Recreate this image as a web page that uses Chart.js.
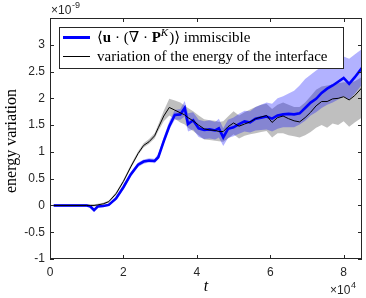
<!DOCTYPE html>
<html>
<head>
<meta charset="utf-8">
<script src="https://cdn.jsdelivr.net/npm/chart.js@4.4.1/dist/chart.umd.min.js"></script>
<style>
  html, body { margin: 0; padding: 0; background: #fff; }
  #wrap { width: 366px; height: 298px; position: relative; }
</style>
</head>
<body>
<div id="wrap"><canvas id="chart"></canvas></div>
<script>
// t in units of 1e4, values in units of 1e-9
const T = [0.1, 0.6, 1.0, 1.1, 1.2, 1.3, 1.45, 1.6, 1.8, 2.0, 2.2, 2.4, 2.55, 2.7, 2.85, 2.95, 3.1, 3.25, 3.4, 3.55,
           3.67, 3.76, 3.9, 4.05, 4.2, 4.35, 4.5, 4.6, 4.72, 4.85, 5.0, 5.15, 5.3, 5.45, 5.6, 5.75, 5.9, 6.05, 6.2, 6.35,
           6.5, 6.65, 6.8, 6.95, 7.1, 7.25, 7.4, 7.55, 7.7, 7.85, 8.0, 8.15, 8.3, 8.5];

const blue   = [0, 0, 0, -0.02, -0.09, -0.02, -0.01, 0.01, 0.13, 0.34, 0.58, 0.76, 0.82, 0.84, 0.83, 0.90, 1.20, 1.48, 1.69, 1.70,
                1.82, 1.52, 1.59, 1.44, 1.41, 1.42, 1.40, 1.44, 1.27, 1.43, 1.46, 1.52, 1.57, 1.55, 1.62, 1.64, 1.66, 1.62, 1.68, 1.70,
                1.71, 1.70, 1.72, 1.82, 1.92, 1.99, 2.10, 2.18, 2.24, 2.31, 2.38, 2.27, 2.39, 2.57];
const blueLo = [-0.02, -0.02, -0.02, -0.04, -0.11, -0.04, -0.03, -0.01, 0.10, 0.30, 0.54, 0.72, 0.78, 0.80, 0.79, 0.86, 1.15, 1.42, 1.60, 1.60,
                1.66, 1.38, 1.42, 1.28, 1.24, 1.25, 1.23, 1.27, 1.11, 1.26, 1.29, 1.34, 1.38, 1.36, 1.40, 1.41, 1.42, 1.38, 1.43, 1.46,
                1.46, 1.46, 1.51, 1.58, 1.68, 1.74, 1.82, 1.88, 1.92, 1.98, 2.04, 1.98, 2.08, 2.26];
const blueHi = [0.02, 0.02, 0.02, 0.00, -0.07, 0.00, 0.01, 0.03, 0.16, 0.38, 0.62, 0.80, 0.86, 0.88, 0.87, 0.96, 1.28, 1.57, 1.78, 1.80,
                1.95, 1.72, 1.74, 1.60, 1.57, 1.59, 1.56, 1.62, 1.44, 1.60, 1.64, 1.71, 1.77, 1.76, 1.84, 1.88, 1.92, 1.90, 2.00, 2.04,
                2.09, 2.14, 2.24, 2.36, 2.44, 2.52, 2.59, 2.64, 2.70, 2.76, 2.78, 2.74, 2.82, 2.92];

const black   = [0, 0, 0, 0, 0, 0.01, 0.03, 0.07, 0.22, 0.45, 0.72, 0.97, 1.12, 1.19, 1.30, 1.45, 1.67, 1.83, 1.78, 1.73,
                 1.69, 1.64, 1.58, 1.50, 1.43, 1.41, 1.40, 1.38, 1.38, 1.47, 1.54, 1.48, 1.52, 1.56, 1.62, 1.65, 1.68, 1.55, 1.64, 1.67,
                 1.62, 1.58, 1.56, 1.64, 1.74, 1.86, 1.94, 1.94, 1.99, 2.00, 2.03, 1.97, 2.05, 2.20];
const blackLo = [-0.02, -0.02, -0.02, -0.02, -0.02, -0.01, 0.01, 0.05, 0.19, 0.42, 0.69, 0.94, 1.08, 1.15, 1.25, 1.39, 1.57, 1.68, 1.62, 1.55,
                 1.51, 1.45, 1.39, 1.31, 1.23, 1.22, 1.21, 1.20, 1.19, 1.25, 1.33, 1.25, 1.30, 1.33, 1.35, 1.37, 1.39, 1.27, 1.35, 1.35,
                 1.31, 1.29, 1.27, 1.31, 1.37, 1.45, 1.50, 1.45, 1.53, 1.50, 1.57, 1.47, 1.55, 1.64];
const blackHi = [0.02, 0.02, 0.02, 0.02, 0.02, 0.03, 0.05, 0.09, 0.25, 0.48, 0.76, 1.01, 1.16, 1.24, 1.35, 1.51, 1.77, 1.99, 1.96, 1.92,
                 1.86, 1.82, 1.76, 1.68, 1.61, 1.59, 1.58, 1.56, 1.57, 1.66, 1.76, 1.68, 1.74, 1.79, 1.84, 1.88, 1.90, 1.80, 1.88, 1.92,
                 1.88, 1.84, 1.84, 1.92, 2.04, 2.16, 2.22, 2.24, 2.26, 2.28, 2.30, 2.29, 2.32, 2.40];

const xTicks = [0, 2, 4, 6, 8];
const yTicks = [-1, -0.5, 0, 0.5, 1, 1.5, 2, 2.5, 3];

const AXIS = '#262626';
const pts = ys => T.map((t, i) => ({ x: t, y: ys[i] }));

const band = (ys, fill, color, order) => ({
    data: pts(ys), fill: fill, backgroundColor: color, borderColor: 'transparent',
    borderWidth: 0, pointRadius: 0, order: order,
});

// box, inward ticks, legend and exponent labels
const decorations = {
    id: 'decorations',
    afterDraw(chart) {
        const ctx = chart.ctx;
        const a = chart.chartArea;
        const xs = chart.scales.x, ys = chart.scales.y;
        ctx.save();
        ctx.strokeStyle = AXIS;
        ctx.lineWidth = 1;
        ctx.beginPath();
        xTicks.forEach(v => {
            const p = Math.round(xs.getPixelForValue(v)) + 0.5;
            ctx.moveTo(p, a.bottom); ctx.lineTo(p, a.bottom - 4);
            ctx.moveTo(p, a.top); ctx.lineTo(p, a.top + 4);
        });
        yTicks.forEach(v => {
            const p = Math.round(ys.getPixelForValue(v)) + 0.5;
            ctx.moveTo(a.left, p); ctx.lineTo(a.left + 4, p);
            ctx.moveTo(a.right, p); ctx.lineTo(a.right - 4, p);
        });
        ctx.stroke();
        ctx.strokeRect(Math.round(a.left) + 0.5, Math.round(a.top) + 0.5,
                       Math.round(a.right - a.left) - 1, Math.round(a.bottom - a.top) - 1);

        // exponent labels
        ctx.fillStyle = AXIS;
        ctx.textBaseline = 'alphabetic';
        ctx.textAlign = 'left';
        ctx.font = '12px "Liberation Sans", Arial, sans-serif';
        ctx.fillText('\u00d710', 51, 14);
        ctx.font = '9px "Liberation Sans", Arial, sans-serif';
        ctx.fillText('-9', 72, 8);
        ctx.font = '12px "Liberation Sans", Arial, sans-serif';
        ctx.fillText('\u00d710', 330, 294);
        ctx.font = '9px "Liberation Sans", Arial, sans-serif';
        ctx.fillText('4', 351, 288);

        // axis titles
        ctx.fillStyle = '#000';
        ctx.font = 'italic 16px "Liberation Serif", "DejaVu Serif", serif';
        ctx.textAlign = 'center';
        ctx.fillText('t', 206, 291);
        ctx.save();
        ctx.translate(16, 141);
        ctx.rotate(-Math.PI / 2);
        ctx.font = '16px "Liberation Serif", "DejaVu Serif", serif';
        ctx.fillText('energy variation', 0, 0);
        ctx.restore();

        // legend
        const lx = 59.5, ly = 27.5, lw = 284, lh = 41;
        ctx.fillStyle = '#fff';
        ctx.fillRect(lx, ly, lw, lh);
        ctx.strokeStyle = AXIS;
        ctx.strokeRect(lx, ly, lw, lh);
        ctx.strokeStyle = '#0000ff';
        ctx.lineWidth = 3;
        ctx.beginPath(); ctx.moveTo(63, 37.5); ctx.lineTo(90, 37.5); ctx.stroke();
        ctx.strokeStyle = '#000';
        ctx.lineWidth = 1;
        ctx.beginPath(); ctx.moveTo(63, 56.5); ctx.lineTo(90, 56.5); ctx.stroke();

        const serif = '"Liberation Serif", "DejaVu Serif", serif';
        const runs = [
            { s: '\u27e8', f: '15px ' + serif, dy: 0 },
            { s: 'u', f: 'bold 15px ' + serif, dy: 0 },
            { s: ' \u00b7 (\u2207 \u00b7 ', f: '15px ' + serif, dy: 0 },
            { s: 'P', f: 'bold 15px ' + serif, dy: 0 },
            { s: 'K', f: 'italic 11px ' + serif, dy: -6 },
            { s: ')\u27e9 immiscible', f: '15px ' + serif, dy: 0 },
        ];
        ctx.fillStyle = '#000';
        ctx.textAlign = 'left';
        let x = 97;
        runs.forEach(r => {
            ctx.font = r.f;
            ctx.fillText(r.s, x, 42 + r.dy);
            x += ctx.measureText(r.s).width + (r.dy ? 1 : 0);
        });
        ctx.font = '15px ' + serif;
        ctx.fillText('variation of the energy of the interface', 97, 61);
        ctx.restore();
    }
};

new Chart(document.getElementById('chart'), {
    type: 'line',
    data: {
        datasets: [
            band(blackLo, false, 'transparent', 4),
            band(blackHi, '-1', 'rgba(128, 128, 128, 0.5)', 4),
            band(blueLo, false, 'transparent', 3),
            band(blueHi, '-1', 'rgba(0, 0, 255, 0.3)', 3),
            { data: pts(blue), borderColor: '#0000ff', borderWidth: 2.6, pointRadius: 0, fill: false, order: 1 },
            { data: pts(black), borderColor: '#000000', borderWidth: 1, pointRadius: 0, fill: false, order: 0 },
        ],
    },
    options: {
        responsive: true,
        maintainAspectRatio: false,
        animation: false,
        layout: { padding: { left: 0, top: 18, right: 4, bottom: 0 } },
        plugins: { legend: { display: false }, tooltip: { enabled: false } },
        scales: {
            x: {
                type: 'linear', min: 0, max: 8.5,
                grid: { display: false, drawTicks: false }, border: { display: false },
                afterBuildTicks: s => { s.ticks = xTicks.map(v => ({ value: v })); },
                afterFit: s => { s.height = 39; },
                ticks: { color: AXIS, padding: 6, maxRotation: 0, callback: v => String(v),
                         font: { family: '"Liberation Sans", Arial, sans-serif', size: 12 } },
            },
            y: {
                type: 'linear', min: -1, max: 3.5,
                grid: { display: false, drawTicks: false }, border: { display: false },
                afterBuildTicks: s => { s.ticks = yTicks.map(v => ({ value: v })); },
                afterFit: s => { s.width = 50; },
                ticks: { color: AXIS, padding: 5, callback: v => String(v),
                         font: { family: '"Liberation Sans", Arial, sans-serif', size: 12 } },
            },
        },
    },
    plugins: [decorations],
});
</script>
</body>
</html>
